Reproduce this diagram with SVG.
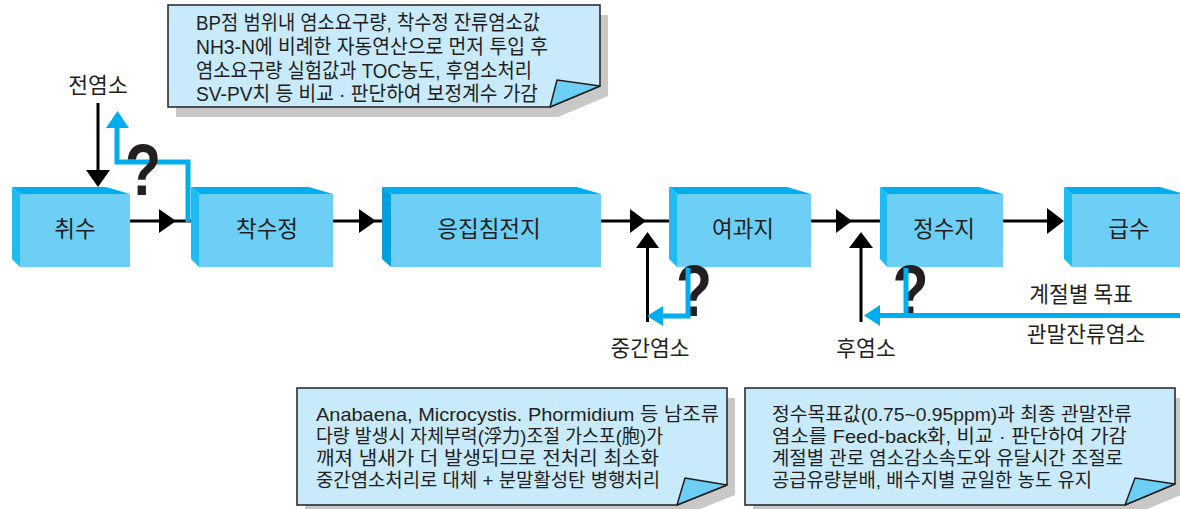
<svg xmlns="http://www.w3.org/2000/svg" width="1180" height="509" viewBox="0 0 1180 509">
<style>
.top{fill:#00aeef}
.side{fill:#1ebcf0}
.side2{fill:#00a0dc}
.front{fill:#6dcff6}
.lbl{font-family:"Noto Sans CJK KR","Liberation Sans",sans-serif;font-size:22.5px;fill:#231f20;text-anchor:middle}
.cap{font-family:"Noto Sans CJK KR","Liberation Sans",sans-serif;font-size:21.5px;fill:#231f20;text-anchor:middle}
.q{font-family:"Liberation Sans",sans-serif;font-weight:bold;font-size:72px;fill:#231f20;text-anchor:middle}
.blk{stroke:#000;stroke-width:3;fill:none}
.blu{stroke:#00aeef;stroke-width:5;fill:none}
.ahb{fill:#000}
.ahu{fill:#00aeef}
.shadow{fill:#c8c8c8}
.body{fill:#c8eafa;stroke:#231f20;stroke-width:1.5}
.fold{fill:#6dcff6;stroke:#231f20;stroke-width:1.5;stroke-linejoin:round}
.nt{font-family:"Liberation Sans","Noto Sans CJK KR",sans-serif;fill:#231f20}
.nt1{font-size:20.5px}
.nt2{font-size:19px}
</style>

<g id="connectors">
  <line class="blk" x1="98" y1="103" x2="98" y2="171"/>
  <polygon class="ahb" points="86,170 110,170 98,187"/>
  <line class="blk" x1="130" y1="221" x2="191" y2="221"/>
  <polygon class="ahb" points="159,209 176,221 159,233"/>
  <line class="blk" x1="333" y1="221" x2="382" y2="221"/>
  <polygon class="ahb" points="359,209 376,221 359,233"/>
  <line class="blk" x1="601" y1="221" x2="669" y2="221"/>
  <polygon class="ahb" points="630,209 646,221 630,233"/>
  <line class="blk" x1="811" y1="221" x2="880" y2="221"/>
  <polygon class="ahb" points="836,209 852,221 836,233"/>
  <line class="blk" x1="1003" y1="221" x2="1050" y2="221"/>
  <polygon class="ahb" points="1047,208 1064,221 1047,234"/>
  <line class="blk" x1="647.5" y1="322" x2="647.5" y2="247"/>
  <polygon class="ahb" points="636,248 659,248 647.5,232"/>
  <line class="blk" x1="861" y1="322" x2="861" y2="247"/>
  <polygon class="ahb" points="849,248 873,248 861,232"/>
  <polyline class="blu" points="188,222 188,162 117,162 117,126"/>
  <polygon class="ahu" points="106,128 129,128 117.5,111"/>
</g>

<g id="n-chwisu">
  <polygon class="top" points="12,187 106,187 130,194 20,194"/>
  <polygon class="side" points="12,187 20,194 20,267 12,259"/>
  <rect class="front" x="20" y="194" width="110" height="73"/>
  <text class="lbl" x="75" y="237">취수</text>
</g>
<g id="n-chaksujeong">
  <polygon class="top" points="191,187 309,187 333,194 199,194"/>
  <polygon class="side" points="191,187 199,194 199,267 191,259"/>
  <rect class="front" x="199" y="194" width="134" height="73"/>
  <text class="lbl" x="267" y="237">착수정</text>
</g>
<g id="n-eungjip">
  <polygon class="top" points="382,187 577,187 601,194 391,194"/>
  <polygon class="side2" points="382,187 391,194 391,267 382,259"/>
  <rect class="front" x="391" y="194" width="210" height="73"/>
  <text class="lbl" x="489" y="237">응집침전지</text>
</g>
<g id="n-yeogwaji">
  <polygon class="top" points="669,187 787,187 811,194 677,194"/>
  <polygon class="side" points="669,187 677,194 677,267 669,259"/>
  <rect class="front" x="677" y="194" width="134" height="73"/>
  <text class="lbl" x="743" y="237">여과지</text>
</g>
<g id="n-jeongsuji">
  <polygon class="top" points="880,187 979,187 1003,194 887,194"/>
  <polygon class="side" points="880,187 887,194 887,267 880,259"/>
  <rect class="front" x="887" y="194" width="116" height="73"/>
  <text class="lbl" x="944" y="237">정수지</text>
</g>
<g id="n-geupsu">
  <polygon class="top" points="1064,187 1160,187 1184,194 1072,194"/>
  <polygon class="side" points="1064,187 1072,194 1072,267 1064,259"/>
  <rect class="front" x="1072" y="194" width="112" height="73"/>
  <text class="lbl" x="1129" y="237">급수</text>
</g>

<g id="q-marks">
  <text class="q" transform="translate(143,195) scale(0.82,1)">?</text>
  <text class="q" transform="translate(694,316) scale(0.82,1)">?</text>
  <text class="q" transform="translate(910.5,316) scale(0.82,1)">?</text>
</g>

<g id="connectors-blue">
  <polyline class="blu" points="688,268 688,316 661,316"/>
  <polygon class="ahu" points="663,306 663,326 647,316"/>
  <line class="blu" x1="906" y1="268" x2="906" y2="315"/>
  <line class="blu" x1="1180" y1="315.5" x2="878" y2="315.5"/>
  <polygon class="ahu" points="880,305 880,326 864,315.5"/>
</g>

<g id="labels">
  <text class="cap" x="98" y="93">전염소</text>
  <text class="cap" x="650" y="356">중간염소</text>
  <text class="cap" x="866" y="356">후염소</text>
  <text class="cap" x="1081" y="302">계절별 목표</text>
  <text class="cap" x="1086" y="342">관말잔류염소</text>
</g>

<g id="note-top">
  <polygon class="shadow" points="176,15 608,15 608,96 558,117 176,117"/>
  <polygon class="body" points="168,5 600,5 600,86 550,107 168,107"/>
  <polygon class="fold" points="557,80 600,86 550,107"/>
  <text class="nt nt1" x="196" y="30" textLength="344" lengthAdjust="spacingAndGlyphs">BP점 범위내 염소요구량, 착수정 잔류염소값</text>
  <text class="nt nt1" x="196" y="54" textLength="352" lengthAdjust="spacingAndGlyphs">NH3-N에 비례한 자동연산으로 먼저 투입 후</text>
  <text class="nt nt1" x="196" y="78" textLength="336" lengthAdjust="spacingAndGlyphs">염소요구량 실험값과 TOC농도, 후염소처리</text>
  <text class="nt nt1" x="196" y="101" textLength="342" lengthAdjust="spacingAndGlyphs">SV-PV치 등 비교 · 판단하여 보정계수 가감</text>
</g>

<g id="note-left">
  <polygon class="shadow" points="305,398 735,398 735,495 685,515 305,515"/>
  <polygon class="body" points="297,388 727,388 727,485 677,505 297,505"/>
  <polygon class="fold" points="685,478 727,485 677,505"/>
  <text class="nt nt2" x="316" y="421" textLength="403" lengthAdjust="spacingAndGlyphs">Anabaena, Microcystis. Phormidium 등 남조류</text>
  <text class="nt nt2" x="316" y="443" textLength="347" lengthAdjust="spacingAndGlyphs">다량 발생시 자체부력(浮力)조절 가스포(胞)가</text>
  <text class="nt nt2" x="316" y="465" textLength="343" lengthAdjust="spacingAndGlyphs">깨져 냄새가 더 발생되므로 전처리 최소화</text>
  <text class="nt nt2" x="316" y="487" textLength="344" lengthAdjust="spacingAndGlyphs">중간염소처리로 대체 + 분말활성탄 병행처리</text>
</g>

<g id="note-right">
  <polygon class="shadow" points="753,398 1183,398 1183,494 1133,515 753,515"/>
  <polygon class="body" points="745,388 1175,388 1175,484 1125,505 745,505"/>
  <polygon class="fold" points="1135,478 1175,484 1125,505"/>
  <text class="nt nt2" x="772" y="421" textLength="360" lengthAdjust="spacingAndGlyphs">정수목표값(0.75~0.95ppm)과 최종 관말잔류</text>
  <text class="nt nt2" x="772" y="443" textLength="355" lengthAdjust="spacingAndGlyphs">염소를 Feed-back화, 비교 · 판단하여 가감</text>
  <text class="nt nt2" x="772" y="465" textLength="351" lengthAdjust="spacingAndGlyphs">계절별 관로 염소감소속도와 유달시간 조절로</text>
  <text class="nt nt2" x="772" y="487" textLength="320" lengthAdjust="spacingAndGlyphs">공급유량분배, 배수지별 균일한 농도 유지</text>
</g>
</svg>
